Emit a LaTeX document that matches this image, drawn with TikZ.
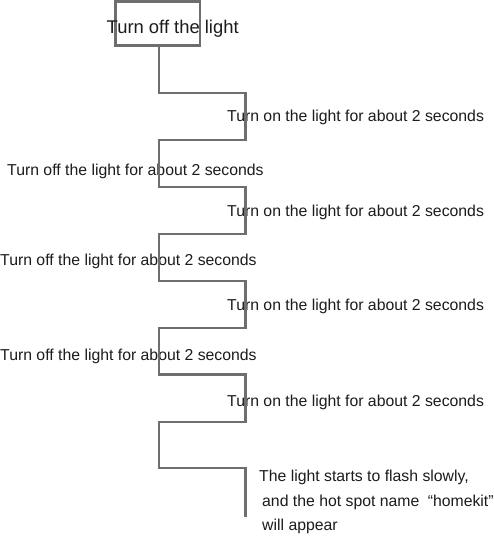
\documentclass[tikz,border=0pt]{standalone}
\usepackage{fontspec}
\setmainfont{Liberation Sans}
\definecolor{linegray}{RGB}{110,110,110}
\definecolor{txt}{RGB}{28,28,28}
\begin{document}
\begin{tikzpicture}[x=1pt,y=-1pt,
  conn/.style={draw=linegray, line width=2.2pt},
  lbl/.style={anchor=base west, inner sep=0pt, text=txt, font=\fontsize{15.8}{18}\selectfont},
  startbox/.style={draw=linegray, line width=2.2pt, minimum width=84.5pt, minimum height=44pt, inner sep=0pt}
]
\useasboundingbox (0,0) rectangle (494,550);
\fill[white] (0,0) rectangle (494,550);
% start box and its text
\node[startbox] (box) at (157.8,23.5) {};
\node[anchor=base, inner sep=0pt, text=txt, font=\fontsize{18.4}{20}\selectfont] (boxtext) at (172.7,33.3) {Turn off the light};
% corner coordinates of the step line
\coordinate (p1) at (159,93);
\coordinate (p2) at (245.5,93);
\coordinate (p3) at (245.5,140);
\coordinate (p4) at (159,140);
\coordinate (p5) at (159,187);
\coordinate (p6) at (245.5,187);
\coordinate (p7) at (245.5,234);
\coordinate (p8) at (159,234);
\coordinate (p9) at (159,281);
\coordinate (p10) at (245.5,281);
\coordinate (p11) at (245.5,328);
\coordinate (p12) at (159,328);
\coordinate (p13) at (159,374.5);
\coordinate (p14) at (245.5,374.5);
\coordinate (p15) at (245.5,422);
\coordinate (p16) at (159,422);
\coordinate (p17) at (159,468);
\coordinate (p18) at (245.5,468);
\coordinate (pend) at (245.5,516.5);
% labels
\node[lbl] (on1) at (227,121) {Turn on the light for about 2 seconds};
\node[lbl] (off1) at (7,175) {Turn off the light for about 2 seconds};
\node[lbl] (on2) at (227,216.5) {Turn on the light for about 2 seconds};
\node[lbl] (off2) at (0,265) {Turn off the light for about 2 seconds};
\node[lbl] (on3) at (227,310) {Turn on the light for about 2 seconds};
\node[lbl] (off3) at (0,360) {Turn off the light for about 2 seconds};
\node[lbl] (on4) at (227,406.5) {Turn on the light for about 2 seconds};
\node[lbl] (fin1) at (259,481.5) {The light starts to flash slowly,};
\node[lbl] (fin2) at (262,506) {and the hot spot name \hspace{4pt}“homekit”};
\node[lbl] (fin3) at (262,530) {will appear};
% the step line
\draw[conn, line join=miter] (box.south -| p1) -- (p1) -- (p2) -- (p3) -- (p4) -- (p5) -- (p6) -- (p7) -- (p8) -- (p9) -- (p10) -- (p11) -- (p12) -- (p13) -- (p14) -- (p15) -- (p16) -- (p17) -- (p18) -- (pend);
\end{tikzpicture}
\end{document}
